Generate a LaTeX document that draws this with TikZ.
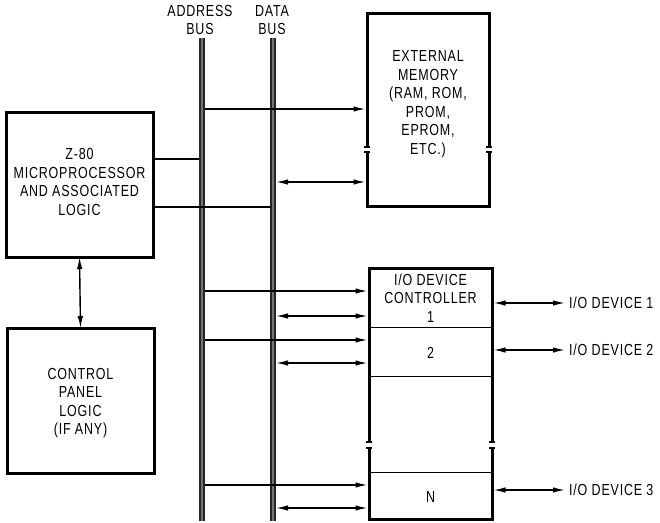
\documentclass[tikz,border=0pt]{standalone}
\usepackage{fontspec}
\setmainfont{Liberation Sans}[FakeStretch=0.78,LetterSpace=5]
\usetikzlibrary{arrows.meta}
\begin{document}
\begin{tikzpicture}[x=1pt,y=-1pt,
  box/.style={draw,line width=3pt},
  txt/.style={font=\fontsize{16}{18.5}\selectfont,align=center,inner sep=0pt},
  conn/.style={line width=1.4pt},
  hd/.tip={Latex[length=12pt,width=5.5pt]},
  tip/.style={-hd},
  dtip/.style={hd-hd},
  div/.style={line width=1pt},
  busout/.style={line width=6pt,black!85},
  busin/.style={line width=2.4pt,black!55}]
\useasboundingbox (0,0) rectangle (660,522);
% buses
\coordinate (abT) at (202,38); \coordinate (abB) at (202,521);
\coordinate (dbT) at (273,38); \coordinate (dbB) at (273,521);
\draw[busout] (abT) -- (abB); \draw[busin] (abT) -- (abB);
\draw[busout] (dbT) -- (dbB); \draw[busin] (dbT) -- (dbB);
\node[txt] (abl) at (200,20) {ADDRESS\\BUS};
\node[txt] (dbl) at (272,20) {DATA\\BUS};
% Z-80
\node[box,minimum width=147pt,minimum height=145pt] (cpu) at (79.5,184.5) {};
\node[txt] (cput) at (79.5,182) {Z-80\\MICROPROCESSOR\\AND ASSOCIATED\\LOGIC};
% control panel
\node[box,minimum width=147pt,minimum height=145pt] (cp) at (80.5,400.5) {};
\node[txt] (cpt) at (80.5,403) {CONTROL\\PANEL\\LOGIC\\(IF ANY)};
\draw[conn,dtip] ([yshift=1.5pt]cpu.south) -- ([yshift=-1.5pt]cp.north);
% CPU to buses
\coordinate (c1) at (153,159); \coordinate (a1) at (199,159);
\coordinate (c2) at (153,207); \coordinate (d2) at (271,207);
\draw[conn] (c1) -- (a1);
\draw[conn] (c2) -- (d2);
% external memory
\draw[line width=3pt] (367,147) -- (367,13) -- (489,13) -- (489,147);
\draw[line width=3pt] (367,152) -- (367,206) -- (489,206) -- (489,152);
\foreach \x in {367,489}{\draw[line width=1.2pt] (\x-3,147) -- (\x+3,147) (\x-3,152) -- (\x+3,152);}
\node[txt] (memt) at (428,104) {EXTERNAL\\MEMORY\\(RAM, ROM,\\PROM,\\EPROM,\\ETC.)};
\coordinate (ma) at (365.5,109); \coordinate (md) at (365.5,182);
\draw[conn,tip] (205,109) -- (ma);
\draw[conn,dtip] (276,182) -- (md);
% I/O controller
\draw[line width=3pt] (369,442) -- (369,268) -- (492,268) -- (492,442);
\draw[line width=3pt] (369,448) -- (369,519) -- (492,519) -- (492,448);
\foreach \x in {369,492}{\draw[line width=1.2pt] (\x-3,442) -- (\x+3,442) (\x-3,448) -- (\x+3,448);}
\draw[div] (369,327) -- (492,327);
\draw[div] (369,376) -- (492,376);
\draw[div] (369,472) -- (492,472);
\node[txt] (io1) at (430.5,298) {I/O DEVICE\\CONTROLLER\\1};
\node[txt] (io2) at (430.5,353) {2};
\node[txt] (ioN) at (430.5,497) {N};
\foreach \y in {291,340,485}{\draw[conn,tip] (205,\y) -- (367.5,\y);}
\foreach \y in {316,363,508}{\draw[conn,dtip] (276,\y) -- (367.5,\y);}
% devices
\node[txt,anchor=west] (dev1) at (569,303) {I/O DEVICE 1};
\node[txt,anchor=west] (dev2) at (569,350) {I/O DEVICE 2};
\node[txt,anchor=west] (dev3) at (569,490) {I/O DEVICE 3};
\draw[conn,dtip] (493.5,303) -- ([xshift=-4pt]dev1.west);
\draw[conn,dtip] (493.5,350) -- ([xshift=-4pt]dev2.west);
\draw[conn,dtip] (493.5,490) -- ([xshift=-4pt]dev3.west);
\end{tikzpicture}
\end{document}
